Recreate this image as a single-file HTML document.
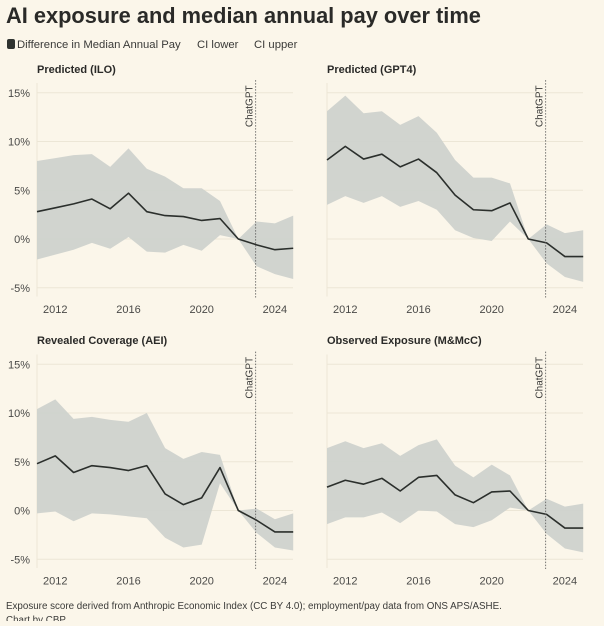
<!DOCTYPE html>
<html><head><meta charset="utf-8">
<style>
html,body{margin:0;padding:0;background:#fbf6ea;}
body{width:604px;height:621px;overflow:hidden;font-family:"Liberation Sans",sans-serif;}
</style></head>
<body>
<svg id="chart" width="604" height="621" viewBox="0 0 604 621" xmlns="http://www.w3.org/2000/svg">
<rect width="604" height="621" fill="#fbf6ea"/>
<text x="6" y="23" font-size="21.8" font-weight="bold" fill="#2a2a28">AI exposure and median annual pay over time</text>
<g font-size="11.3" fill="#3a3a38">
<rect x="7" y="39" width="8" height="10" rx="2" fill="#2f3330"/>
<text x="17" y="48">Difference in Median Annual Pay</text>
<text x="197" y="48">CI lower</text>
<text x="254" y="48">CI upper</text>
</g>
<g id="panels"></g>
<text x="6" y="609" font-size="9.8" fill="#3a3a38">Exposure score derived from Anthropic Economic Index (CC BY 4.0); employment/pay data from ONS APS/ASHE.</text>
<text x="6" y="623" font-size="9.8" fill="#3a3a38">Chart by CBP</text>
</svg>
<script>
const years = [2011,2012,2013,2014,2015,2016,2017,2018,2019,2020,2021,2022,2023,2024,2025];
const xTicks = [2012,2016,2020,2024];
const yTicks = [-5,0,5,10,15];
const panelTitles = ["Predicted (ILO)","Predicted (GPT4)","Revealed Coverage (AEI)","Observed Exposure (M&McC)"];
const iloMid = [2.8,3.2,3.6,4.1,3.1,4.7,2.8,2.4,2.3,1.9,2.1,0,-0.6,-1.1,-0.95];
const iloUp = [8.0,8.3,8.6,8.7,7.4,9.3,7.2,6.4,5.2,5.2,3.9,0,1.8,1.6,2.4];
const iloLo = [-2.1,-1.6,-1.1,-0.4,-1.0,0.2,-1.3,-1.4,-0.6,-1.2,0.4,0,-2.8,-3.6,-4.1];
const gptMid = [8.1,9.5,8.2,8.7,7.4,8.2,6.8,4.5,3.0,2.9,3.7,0,-0.4,-1.8,-1.8];
const gptUp = [13.1,14.7,12.9,13.1,11.7,12.6,10.9,8.1,6.3,6.3,5.7,0,1.5,0.6,0.9];
const gptLo = [3.5,4.4,3.7,4.4,3.3,3.9,3.0,0.9,0.1,-0.2,1.8,0,-2.5,-3.9,-4.4];
const aeiMid = [4.8,5.6,3.9,4.6,4.4,4.1,4.6,1.7,0.6,1.3,4.4,0,-1.0,-2.2,-2.2];
const aeiUp = [10.4,11.4,9.4,9.6,9.3,9.1,10.0,6.4,5.3,6.0,5.7,0,0.2,-0.9,-0.3];
const aeiLo = [-0.3,-0.1,-1.1,-0.3,-0.4,-0.6,-0.8,-2.8,-3.8,-3.5,2.8,0,-2.3,-3.8,-4.1];
const mmMid = [2.4,3.1,2.7,3.3,2.0,3.4,3.6,1.6,0.8,1.9,2.0,0,-0.4,-1.8,-1.8];
const mmUp = [6.4,7.1,6.4,6.9,5.6,6.7,7.3,4.6,3.4,4.7,3.6,0,1.2,0.4,0.7];
const mmLo = [-1.4,-0.7,-0.7,-0.2,-1.3,0,-0.1,-1.4,-1.7,-1.0,0.3,0,-2.4,-3.9,-4.3];
const chatGptYear = 2022.95;

const NS="http://www.w3.org/2000/svg";
const root=document.getElementById('panels');
function mk(tag,attrs,parent){const e=document.createElementNS(NS,tag);for(const k in attrs)e.setAttribute(k,attrs[k]);(parent||root).appendChild(e);return e;}
const series=[[iloMid,iloUp,iloLo],[gptMid,gptUp,gptLo],[aeiMid,aeiUp,aeiLo],[mmMid,mmUp,mmLo]];
const layout=[{x0:37,y0:239,ty:73},{x0:327,y0:239,ty:73},{x0:37,y0:510.5,ty:344},{x0:327,y0:510.5,ty:344}];
const slugs=['ilo','gpt4','aei','mmc'];
series.forEach((s,i)=>{
  const L=layout[i];
  const xs=y=>L.x0+(y-2011)*18.3;
  const ys=v=>L.y0-v*9.75;
  const g=mk('g',{});
  
  
  const t=mk('text',{x:L.x0,y:L.ty,'font-size':11,'font-weight':'bold',fill:'#2a2a28'},g);
  t.textContent=panelTitles[i];
  
  
  yTicks.forEach(v=>{
    const gl=mk('line',{x1:L.x0,x2:L.x0+256,y1:ys(v),y2:ys(v),stroke:'#ece6d6','stroke-width':1},g);
    
    
    if(i%2===0){
      const tl=mk('text',{x:30,y:ys(v)+4,'font-size':11,fill:'#4a4a48','text-anchor':'end'},g);
      tl.textContent=v+'%';
      
      
    }
  });
  const ax=mk('line',{x1:L.x0,x2:L.x0,y1:ys(16),y2:ys(-5.9),stroke:'#ece6d6'},g);
  
  
  xTicks.forEach(y=>{
    const xl=mk('text',{x:xs(y),y:L.y0+74,'font-size':11,fill:'#4a4a48','text-anchor':'middle'},g);
    xl.textContent=y;
    
    
  });
  const [mid,up,lo]=s;
  let d=years.map((y,k)=>(k?'L':'M')+xs(y)+','+ys(up[k])).join('');
  for(let k=years.length-1;k>=0;k--)d+='L'+xs(years[k])+','+ys(lo[k]);
  const band=mk('path',{d:d+'Z',fill:'#cfd2cd','fill-opacity':0.95},g);
  
  
  const ln=mk('path',{d:years.map((y,k)=>(k?'L':'M')+xs(y)+','+ys(mid[k])).join(''),fill:'none',stroke:'#2b2f2c','stroke-width':1.6,'stroke-linejoin':'round'},g);
  
  
  const cx=xs(chatGptYear);
  const vl=mk('line',{x1:cx,x2:cx,y1:ys(16.3),y2:ys(-6),stroke:'#555','stroke-width':0.8,'stroke-dasharray':'1.5,1.5'},g);
  
  
  const ct=mk('text',{x:0,y:0,'font-size':10,fill:'#3a3a38'},g);
  ct.textContent='ChatGPT';
  
  
  ct.setAttribute('text-anchor','start');
  ct.setAttribute('transform','translate('+(cx-3)+','+(ys(16.3)+47)+') rotate(-90)');
});
</script>
</body></html>
